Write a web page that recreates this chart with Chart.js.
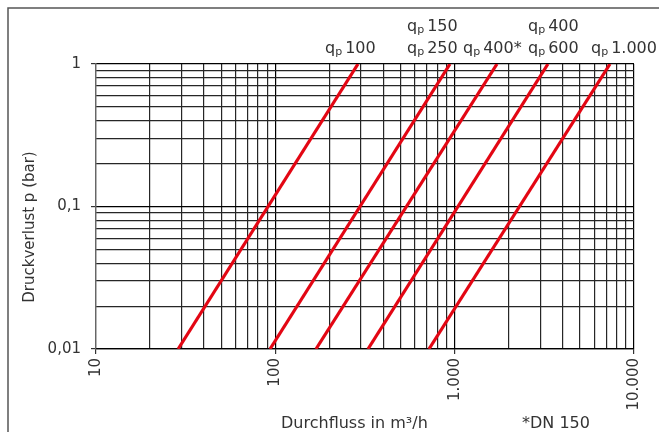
<!DOCTYPE html>
<html>
<head>
<meta charset="utf-8">
<script src="https://cdn.jsdelivr.net/npm/chart.js@4.4.1/dist/chart.umd.min.js"></script>
<style>
  html, body { margin: 0; padding: 0; background: #fff; }
</style>
</head>
<body>
<canvas id="Graph" width="659" height="432"></canvas>
<script>
// Kennlinien: Durchfluss (m3/h) bei 0,01 bar und bei 1 bar
const curveNames = ["qp 100", "qp 150 / qp 250", "qp 400*", "qp 400 / qp 600", "qp 1.000"];
const flowAtLow = [28.7, 93.4, 168.5, 328.6, 719];
const flowAtHigh = [289, 942, 1722, 3313, 7350];
const pressureEnds = [0.01, 1];

// Beschriftungen oben (je Kennlinie, von unten nach oben)
const curveLabels = [["qp 100"], ["qp 250", "qp 150"], ["qp 400*"], ["qp 600", "qp 400"], ["qp 1.000"]];

// Achsen
const xTickValues = [10, 20, 30, 40, 50, 60, 70, 80, 90,
                     100, 200, 300, 400, 500, 600, 700, 800, 900,
                     1000, 2000, 3000, 4000, 5000, 6000, 7000, 8000, 9000, 10000];
const xMajor = [10, 100, 1000, 10000];
const xMajorLabels = ["10", "100", "1.000", "10.000"];
const yTickValues = [0.01, 0.02, 0.03, 0.04, 0.05, 0.06, 0.07, 0.08, 0.09,
                     0.1, 0.2, 0.3, 0.4, 0.5, 0.6, 0.7, 0.8, 0.9, 1];
const yMajor = [0.01, 0.1, 1];
const yMajorLabels = ["0,01", "0,1", "1"];

const FONT = "'DejaVu Sans', sans-serif";
const TEXT = "#333";
const RED = "#e30613";

// label anchors (left x of "q") per curve
const labelLeft = [325, 407, 463, 528, 591];
const labelRows = [53, 31];

function drawQp(c, text, x, base) {
    c.font = "16px " + FONT;
    c.fillText("q", x, base);
    let w = c.measureText("q").width;
    c.font = "11px " + FONT;
    c.fillText("p", x + w, base + 2);
    w += c.measureText("p").width;
    c.font = "16px " + FONT;
    c.fillText(text.slice(2).trim(), x + w + 3, base);
}

const decor = {
    id: 'decor',
    beforeDraw(chart) {
        const c = chart.ctx;
        c.save();
        c.fillStyle = "#fff";
        c.fillRect(0, 0, chart.width, chart.height);
        c.restore();
    },
    afterDraw(chart) {
        const c = chart.ctx;
        c.save();
        // Rahmen
        c.strokeStyle = "#555";
        c.lineWidth = 1.5;
        c.beginPath();
        c.moveTo(8, chart.height);
        c.lineTo(8, 8);
        c.lineTo(chart.width, 8);
        c.stroke();

        c.fillStyle = TEXT;
        c.textAlign = "left";
        c.textBaseline = "alphabetic";
        curveLabels.forEach((rows, i) => {
            rows.forEach((t, r) => drawQp(c, t, labelLeft[i], labelRows[r]));
        });

        c.font = "16px " + FONT;
        c.fillText("Durchfluss in m\u00B3/h", 281, 428);
        c.fillText("*DN 150", 522, 428);

        c.translate(30, 227);
        c.rotate(-Math.PI / 2);
        c.textAlign = "center";
        c.textBaseline = "middle";
        c.font = "15px " + FONT;
        c.fillText("Druckverlust p (bar)", 0, 0);
        c.restore();
    }
};

const datasets = flowAtLow.map((lo, i) => ({
    label: curveNames[i],
    data: [{x: lo, y: pressureEnds[0]}, {x: flowAtHigh[i], y: pressureEnds[1]}],
    borderColor: RED,
    borderWidth: 3.2,
    pointRadius: 0,
    fill: false,
    tension: 0
}));

let ctx = document.getElementById("Graph");
let graph = new Chart(ctx, {
    type: 'line',
    data: { datasets: datasets },
    options: {
        responsive: false,
        animation: false,
        layout: { padding: { top: 64, right: 25, left: 0, bottom: 0 } },
        plugins: { legend: { display: false }, tooltip: { enabled: false } },
        scales: {
            x: {
                type: 'logarithmic',
                min: 10,
                max: 10000,
                afterBuildTicks: (s) => { s.ticks = xTickValues.map(v => ({value: v, major: xMajor.includes(v)})); },
                afterFit: (s) => { s.height = 83; },
                ticks: {
                    autoSkip: false,
                    minRotation: 90,
                    maxRotation: 90,
                    padding: 4,
                    color: TEXT,
                    font: { family: FONT, size: 15 },
                    callback: (v) => { const k = xMajor.indexOf(v); return k >= 0 ? xMajorLabels[k] : ''; }
                },
                grid: {
                    color: (c) => (c.tick && c.tick.major) ? '#000' : '#262626',
                    tickColor: (c) => (c.tick && c.tick.major) ? '#333' : 'rgba(0,0,0,0)',
                    tickLength: 5,
                    lineWidth: 1.2
                },
                border: { color: '#000', width: 1.2 }
            },
            y: {
                type: 'logarithmic',
                min: 0.01,
                max: 1,
                afterBuildTicks: (s) => { s.ticks = yTickValues.map(v => ({value: v, major: yMajor.includes(v)})); },
                afterFit: (s) => { s.width = 96; },
                ticks: {
                    autoSkip: false,
                    padding: 10,
                    color: TEXT,
                    font: { family: FONT, size: 15 },
                    callback: (v) => { const k = yMajor.indexOf(v); return k >= 0 ? yMajorLabels[k] : ''; }
                },
                grid: {
                    color: (c) => (c.tick && c.tick.major) ? '#000' : '#262626',
                    tickColor: (c) => (c.tick && c.tick.major) ? '#333' : 'rgba(0,0,0,0)',
                    tickLength: 5,
                    lineWidth: 1.2
                },
                border: { color: '#666', width: 1.2 }
            }
        }
    },
    plugins: [decor]
});
</script>
</body>
</html>
